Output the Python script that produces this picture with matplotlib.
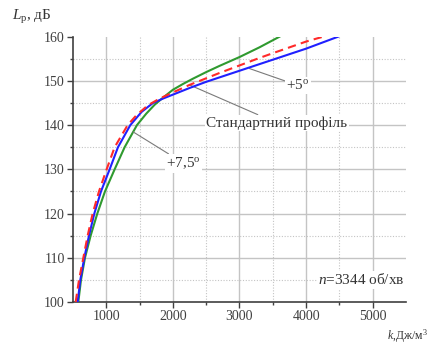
import matplotlib
matplotlib.use("Agg")
import matplotlib.pyplot as plt

plt.rcParams['font.family'] = ['Liberation Serif', 'DejaVu Serif']
plt.rcParams['mathtext.fontset'] = 'custom'
plt.rcParams['mathtext.rm'] = 'Liberation Serif'
plt.rcParams['mathtext.it'] = 'Liberation Serif:italic'

# Data: k (J/m^3) vs L_p (dB)
k_std = [540, 590, 655, 720, 795, 890, 1005, 1125, 1320, 1450, 1625, 1800,
         2000, 2250, 2500, 2700, 3000, 3300, 3600, 4000, 4300]
L_std = [100, 105, 110, 115, 120, 125, 130, 135, 140, 142.2, 144.5, 146.0,
         147.4, 149.1, 150.6, 151.8, 153.5, 155.2, 156.8, 158.9, 160.2]

k_p5 = [570, 610, 670, 740, 820, 920, 1050, 1175, 1360, 1530, 1700, 1850,
        2000, 2250, 2500, 2700, 3000, 3300, 3600, 4000, 4480]
L_p5 = [100, 105, 110, 115, 120, 125, 130, 135, 140, 143, 145.0, 146.0,
        146.9, 148.4, 149.8, 150.8, 152.3, 153.8, 155.3, 157.3, 160.0]

k_p75 = [580, 620, 680, 765, 865, 980, 1125, 1275, 1460, 1600, 1725, 1850,
         2000, 2150, 2300, 2500, 2700, 3000, 3300, 3600]
L_p75 = [100, 105, 110, 115, 120, 125, 130, 135, 140, 142.6, 144.6, 146.2,
         148.0, 149.3, 150.5, 152.0, 153.4, 155.4, 157.6, 160.0]

x_major = [1000, 2000, 3000, 4000, 5000]
x_minor = [1500, 2500, 3500, 4500]
y_major = [100, 110, 120, 130, 140, 150, 160]
y_minor = [105, 115, 125, 135, 145, 155]

fig = plt.figure(figsize=(4.33, 3.48), dpi=100)
ax = fig.add_axes([0.1686, 0.1322, 0.9376 - 0.1686, 0.8945 - 0.1322])
ax.set_xlim(500, 5500)
ax.set_ylim(100, 160)

grid_col = '#c4c4c4'
for xv in x_major:
    ax.axvline(xv, color=grid_col, lw=1.0, zorder=0)
for xv in x_minor:
    ax.axvline(xv, color=grid_col, lw=0.8, ls=(0, (1, 1.5)), zorder=0)
for yv in y_major[1:-1]:
    ax.axhline(yv, color=grid_col, lw=1.0, zorder=0)
for yv in y_minor:
    ax.axhline(yv, color=grid_col, lw=0.8, ls=(0, (1, 1.5)), zorder=0)

ax.plot(k_p75, L_p75, color='#2f9a2f', lw=1.5, zorder=3)
ax.plot(k_p5, L_p5, color='#2020ff', lw=1.5, zorder=4)
ax.plot(k_std, L_std, color='#ff2a2a', lw=1.5, ls=(0, (4, 2.5)), zorder=5)

ax.set_xticks(x_major)
ax.set_xticks(x_minor, minor=True)
ax.set_yticks(y_major)
ax.set_yticks(y_minor, minor=True)
tick_col = '#404040'
ax.tick_params(axis='both', which='major', direction='out', length=4, width=1,
               color=tick_col, labelcolor=tick_col, labelsize=10, pad=2)
ax.tick_params(axis='both', which='minor', direction='out', length=2.5, width=1,
               color=tick_col)
for s in ['top', 'right']:
    ax.spines[s].set_visible(False)
for s in ['left', 'bottom']:
    ax.spines[s].set_color(tick_col)
    ax.spines[s].set_linewidth(1.2)

lead = '#7a7a7a'
box = dict(boxstyle='square,pad=0.1', fc='white', ec='none')
ax.annotate('+5$^{\\rm o}$', xy=(3150, 152.8), xytext=(3700, 149.0),
            fontsize=11, color='#333333', ha='left', va='center', bbox=box,
            arrowprops=dict(arrowstyle='-', color=lead, lw=0.8, shrinkA=0, shrinkB=0))
ax.annotate('Стандартний профіль', xy=(2250, 149.1), xytext=(2500, 140.5),
            fontsize=11, color='#333333', ha='left', va='center', bbox=box,
            arrowprops=dict(arrowstyle='-', color=lead, lw=0.8, shrinkA=0, shrinkB=0))
ax.annotate('+7,5$^{\\rm o}$', xy=(1400, 138.5), xytext=(1900, 131.4),
            fontsize=11, color='#333333', ha='left', va='center', bbox=box,
            arrowprops=dict(arrowstyle='-', color=lead, lw=0.8, shrinkA=0, shrinkB=0))
ax.text(5480, 105.0, '$n$=3344 об/хв', fontsize=11, color='#333333',
        ha='right', va='center', bbox=box)

fig.text(0.028, 0.95, '$L_{\\rm p}$, дБ', fontsize=11, color='#333333',
         ha='left', va='center')
fig.text(0.894, 0.034, '$k$,Дж/м$^3$', fontsize=8.5, color='#333333',
         ha='left', va='center')

fig.savefig('out.png', dpi=100)
